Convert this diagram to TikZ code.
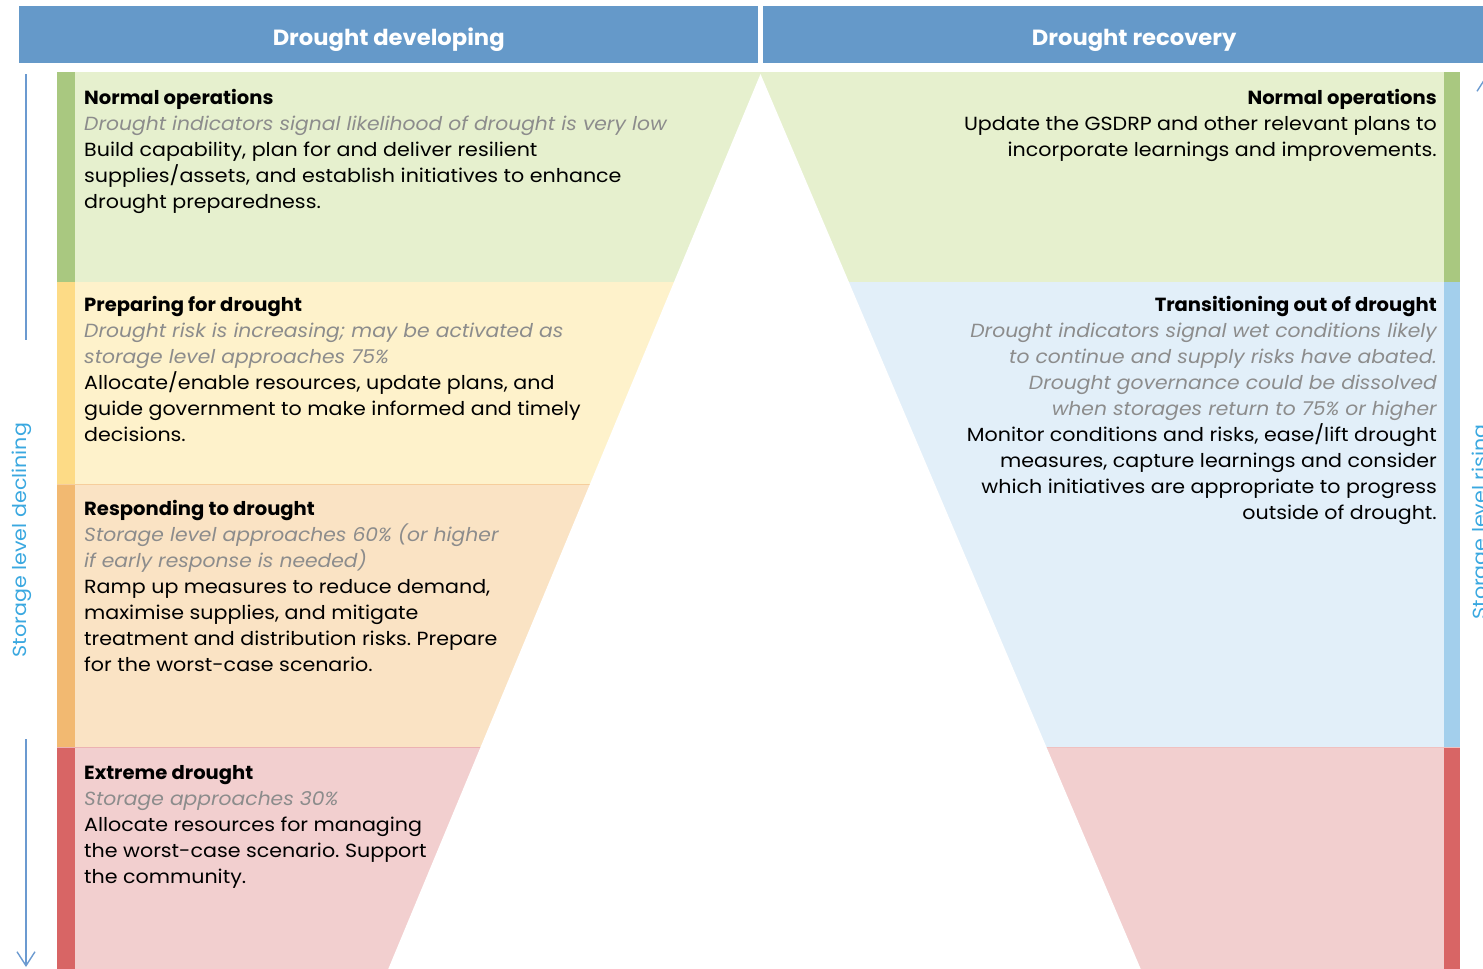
\documentclass[tikz,border=0pt]{standalone}
\usepackage{fontspec}
\setmainfont{Poppins}[UprightFeatures={FakeStretch=1.085},ItalicFeatures={FakeStretch=1.068},BoldFeatures={FakeStretch=1.03}]
\usetikzlibrary{arrows.meta}
\definecolor{hdr}{HTML}{6599C9}
\definecolor{gL}{HTML}{E6F0CE}
\definecolor{gB}{HTML}{A9C880}
\definecolor{yL}{HTML}{FEF2CB}
\definecolor{yB}{HTML}{FDDB86}
\definecolor{oL}{HTML}{FAE3C4}
\definecolor{oB}{HTML}{F2B971}
\definecolor{rL}{HTML}{F2CFCF}
\definecolor{rB}{HTML}{D86565}
\definecolor{bL}{HTML}{E2EFF9}
\definecolor{bB}{HTML}{A3CFEC}
\definecolor{subt}{HTML}{8C8C8C}
\definecolor{arrline}{HTML}{6B9AD0}
\definecolor{arrtxt}{HTML}{3AA8E0}
\newcommand{\sub}[1]{{\color{subt}\itshape #1}}
\frenchspacing
\begin{document}
\begin{tikzpicture}[x=1pt,y=-1pt,
  hdrbox/.style={fill=hdr, text=white, inner sep=0pt, anchor=north west,
    minimum height=57pt, text height=20.6pt, text depth=0pt,
    font=\fontsize{22}{22}\selectfont\bfseries},
  bodyL/.style={inner sep=0pt, anchor=north west, align=left, text=black,
    font=\fontsize{19}{26}\selectfont},
  bodyR/.style={inner sep=0pt, anchor=north east, align=right, text=black,
    font=\fontsize{19}{26}\selectfont},
  sidetxt/.style={rotate=90, text=arrtxt, inner sep=0pt, font=\fontsize{19}{19}\selectfont},
  sidearr/.style={draw=arrline, line width=1.4pt}]
\useasboundingbox (0,0) rectangle (1483,969);
\clip (0,0) rectangle (1483,969);
% headers
\node[hdrbox, minimum width=739pt] (hL) at (19,6) {Drought developing};
\node[hdrbox, minimum width=742pt] (hR) at (763,6) {Drought recovery};
% left panels
\fill[gL] (57,72) rectangle (761,282);
\fill[yL] (57,282) rectangle (761,484);
\fill[oL] (57,484) rectangle (761,747);
\fill[rL] (57,747) rectangle (761,969);
\fill[gB] (57,72) rectangle (75,282);
\fill[yB] (57,282) rectangle (75,484);
\fill[oB] (57,484) rectangle (75,747);
\fill[rB] (57,747) rectangle (75,969);
\draw[oB!70, line width=0.8pt] (57,484) -- (761,484);
\draw[rB!50, line width=0.8pt] (57,747) -- (761,747);
% right panels
\fill[gL] (760,72) rectangle (1460,282);
\fill[bL] (760,282) rectangle (1460,747);
\fill[rL] (760,747) rectangle (1460,969);
\fill[gB] (1444,72) rectangle (1460,282);
\fill[bB] (1444,282) rectangle (1460,747);
\fill[rB] (1444,747) rectangle (1460,969);
\draw[rB!40, line width=0.8pt] (760,747) -- (1460,747);
% central white triangle
\fill[white] (760.5,74) -- (387,972) -- (1142,972) -- cycle;
% left texts
\node[bodyL] (t1) at (84,89) {\textbf{Normal operations}\\
\sub{Drought indicators signal likelihood of drought is very low}\\
Build capability, plan for and deliver resilient\\
supplies/assets, and establish initiatives to enhance\\
drought preparedness.};
\node[bodyL] (t2) at (84,296) {\textbf{Preparing for drought}\\
\sub{Drought risk is increasing; may be activated as}\\
\sub{storage level approaches 75\%}\\
Allocate/enable resources, update plans, and\\
guide government to make informed and timely\\
decisions.};
\node[bodyL] (t3) at (84,500) {\textbf{Responding to drought}\\
\sub{Storage level approaches 60\% (or higher}\\
\sub{if early response is needed)}\\
Ramp up measures to reduce demand,\\
maximise supplies, and mitigate\\
treatment and distribution risks. Prepare\\
for the worst-case scenario.};
\node[bodyL] (t4) at (84,765) {\textbf{Extreme drought}\\
\sub{Storage approaches 30\%}\\
Allocate resources for managing\\
the worst-case scenario. Support\\
the community.};
% right texts
\node[bodyR] (r1) at (1437,89) {\textbf{Normal operations}\\
Update the GSDRP and other relevant plans to\\
incorporate learnings and improvements.};
\node[bodyR] (r2) at (1437,296) {\textbf{Transitioning out of drought}\\
\sub{Drought indicators signal wet conditions likely}\\
\sub{to continue and supply risks have abated.}\\
\sub{Drought governance could be dissolved}\\
\sub{when storages return to 75\% or higher}\\
Monitor conditions and risks, ease/lift drought\\
measures, capture learnings and consider\\
which initiatives are appropriate to progress\\
outside of drought.};
% side arrows
\node[sidetxt] (sl) at (22,540) {Storage level declining};
\coordinate (la1) at (26,74);
\coordinate (la2) at (26,340);
\coordinate (la3) at (26,739);
\coordinate (la4) at (26,967);
\draw[sidearr] (la1) -- (la2);
\draw[sidearr, -{Straight Barb[length=14pt,width=18pt,line width=1.4pt]}] (la3) -- (la4);
\node[sidetxt] (sr) at (1482,522) {Storage level rising};
\coordinate (ra1) at (1486,330);
\coordinate (ra2) at (1486,76);
\draw[sidearr, -{Straight Barb[length=14pt,width=18pt,line width=1.4pt]}] (ra1) -- (ra2);
\end{tikzpicture}
\end{document}
